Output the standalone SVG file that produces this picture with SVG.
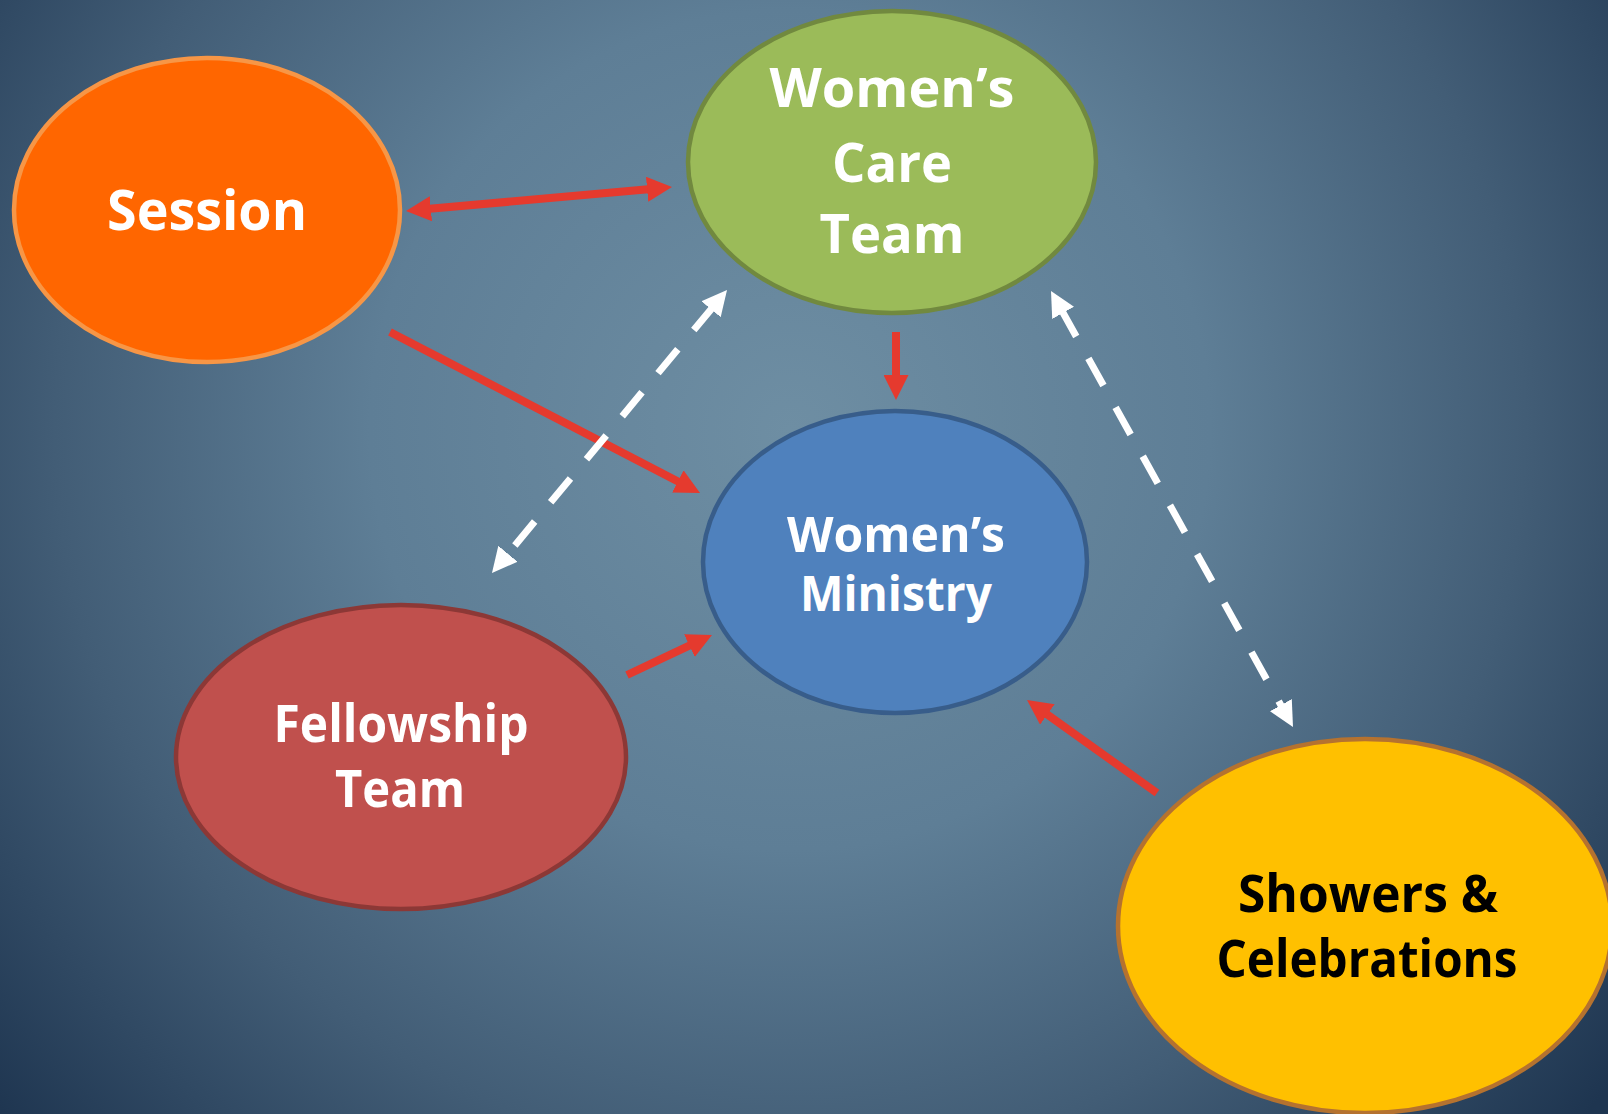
<svg xmlns="http://www.w3.org/2000/svg" width="1608" height="1114" viewBox="0 0 1608 1114">
  <defs>
    <radialGradient id="bg" gradientUnits="userSpaceOnUse" cx="790" cy="430" r="1050">
      <stop offset="0" stop-color="#6E8EA3"/>
      <stop offset="0.4" stop-color="#5E7E96"/>
      <stop offset="0.7" stop-color="#425D76"/>
      <stop offset="1" stop-color="#1E3550"/>
    </radialGradient>
    <marker id="redHead" markerUnits="userSpaceOnUse" markerWidth="25" markerHeight="25" refX="4" refY="12.5" orient="auto-start-reverse" viewBox="0 0 25 25">
      <path d="M0,0 L25,12.5 L0,25 Z" fill="#E53A2E"/>
    </marker>
    <marker id="whiteHead" markerUnits="userSpaceOnUse" markerWidth="25" markerHeight="25" refX="4" refY="12.5" orient="auto-start-reverse" viewBox="0 0 25 25">
      <path d="M0,0 L25,12.5 L0,25 Z" fill="#FFFFFF"/>
    </marker>
  </defs>
  <style>
    .node { stroke-width: 4.5; }
    .lbl { font-family: "Open Sans", "DejaVu Sans", sans-serif; font-weight: bold; text-anchor: middle; fill: #FFFFFF; }
    .dark { fill: #000000; }
    .red { stroke: #E53A2E; stroke-width: 8; fill: none; }
    .white { stroke: #FFFFFF; stroke-width: 7; fill: none; stroke-dasharray: 31 25; }
  </style>

  <rect x="0" y="0" width="1608" height="1114" fill="url(#bg)"/>

  <g id="connectors">
    <line class="red" x1="426.9" y1="209.1" x2="651.1" y2="188.9" marker-start="url(#redHead)" marker-end="url(#redHead)"/>
    <line class="red" x1="390" y1="332" x2="681.4" y2="483.3" marker-end="url(#redHead)"/>
    <line class="red" x1="896" y1="332" x2="896" y2="379" marker-end="url(#redHead)"/>
    <line class="red" x1="627" y1="675" x2="693" y2="643.9" marker-end="url(#redHead)"/>
    <line class="red" x1="1157" y1="793" x2="1044.1" y2="712.2" marker-end="url(#redHead)"/>
    <line class="white" x1="713.6" y1="306.2" x2="505.4" y2="556.8" marker-start="url(#whiteHead)" marker-end="url(#whiteHead)"/>
    <line class="white" x1="1061.2" y1="309.4" x2="1282.8" y2="708.6" marker-start="url(#whiteHead)" marker-end="url(#whiteHead)"/>
  </g>

  <g id="session">
    <ellipse class="node" cx="207" cy="210" rx="193" ry="152" fill="#FF6600" stroke="#F79646"/>
    <text class="lbl" x="207" y="230" font-size="56" textLength="200" lengthAdjust="spacingAndGlyphs">Session</text>
  </g>

  <g id="womens-care-team">
    <ellipse class="node" cx="892" cy="162" rx="204" ry="151" fill="#9BBB59" stroke="#71893F"/>
    <text class="lbl" x="892" y="107" font-size="54" textLength="245" lengthAdjust="spacingAndGlyphs">Women’s</text>
    <text class="lbl" x="892" y="182" font-size="54" textLength="120" lengthAdjust="spacingAndGlyphs">Care</text>
    <text class="lbl" x="892" y="253" font-size="54" textLength="145" lengthAdjust="spacingAndGlyphs">Team</text>
  </g>

  <g id="womens-ministry">
    <ellipse class="node" cx="895" cy="562" rx="192" ry="151" fill="#4F81BD" stroke="#385D8A"/>
    <text class="lbl" x="896" y="552" font-size="48" textLength="218" lengthAdjust="spacingAndGlyphs">Women’s</text>
    <text class="lbl" x="896" y="611" font-size="48" textLength="192" lengthAdjust="spacingAndGlyphs">Ministry</text>
  </g>

  <g id="fellowship-team">
    <ellipse class="node" cx="401" cy="757" rx="225" ry="152" fill="#C0504D" stroke="#8C3836"/>
    <text class="lbl" x="401" y="742" font-size="52" textLength="255" lengthAdjust="spacingAndGlyphs">Fellowship</text>
    <text class="lbl" x="400" y="807" font-size="52" textLength="130" lengthAdjust="spacingAndGlyphs">Team</text>
  </g>

  <g id="showers-celebrations">
    <ellipse class="node" cx="1365" cy="926" rx="247" ry="187" fill="#FFC000" stroke="#B5722F"/>
    <text class="lbl dark" x="1368" y="912" font-size="52" textLength="260" lengthAdjust="spacingAndGlyphs">Showers &amp;</text>
    <text class="lbl dark" x="1367" y="977" font-size="52" textLength="301" lengthAdjust="spacingAndGlyphs">Celebrations</text>
  </g>
</svg>
